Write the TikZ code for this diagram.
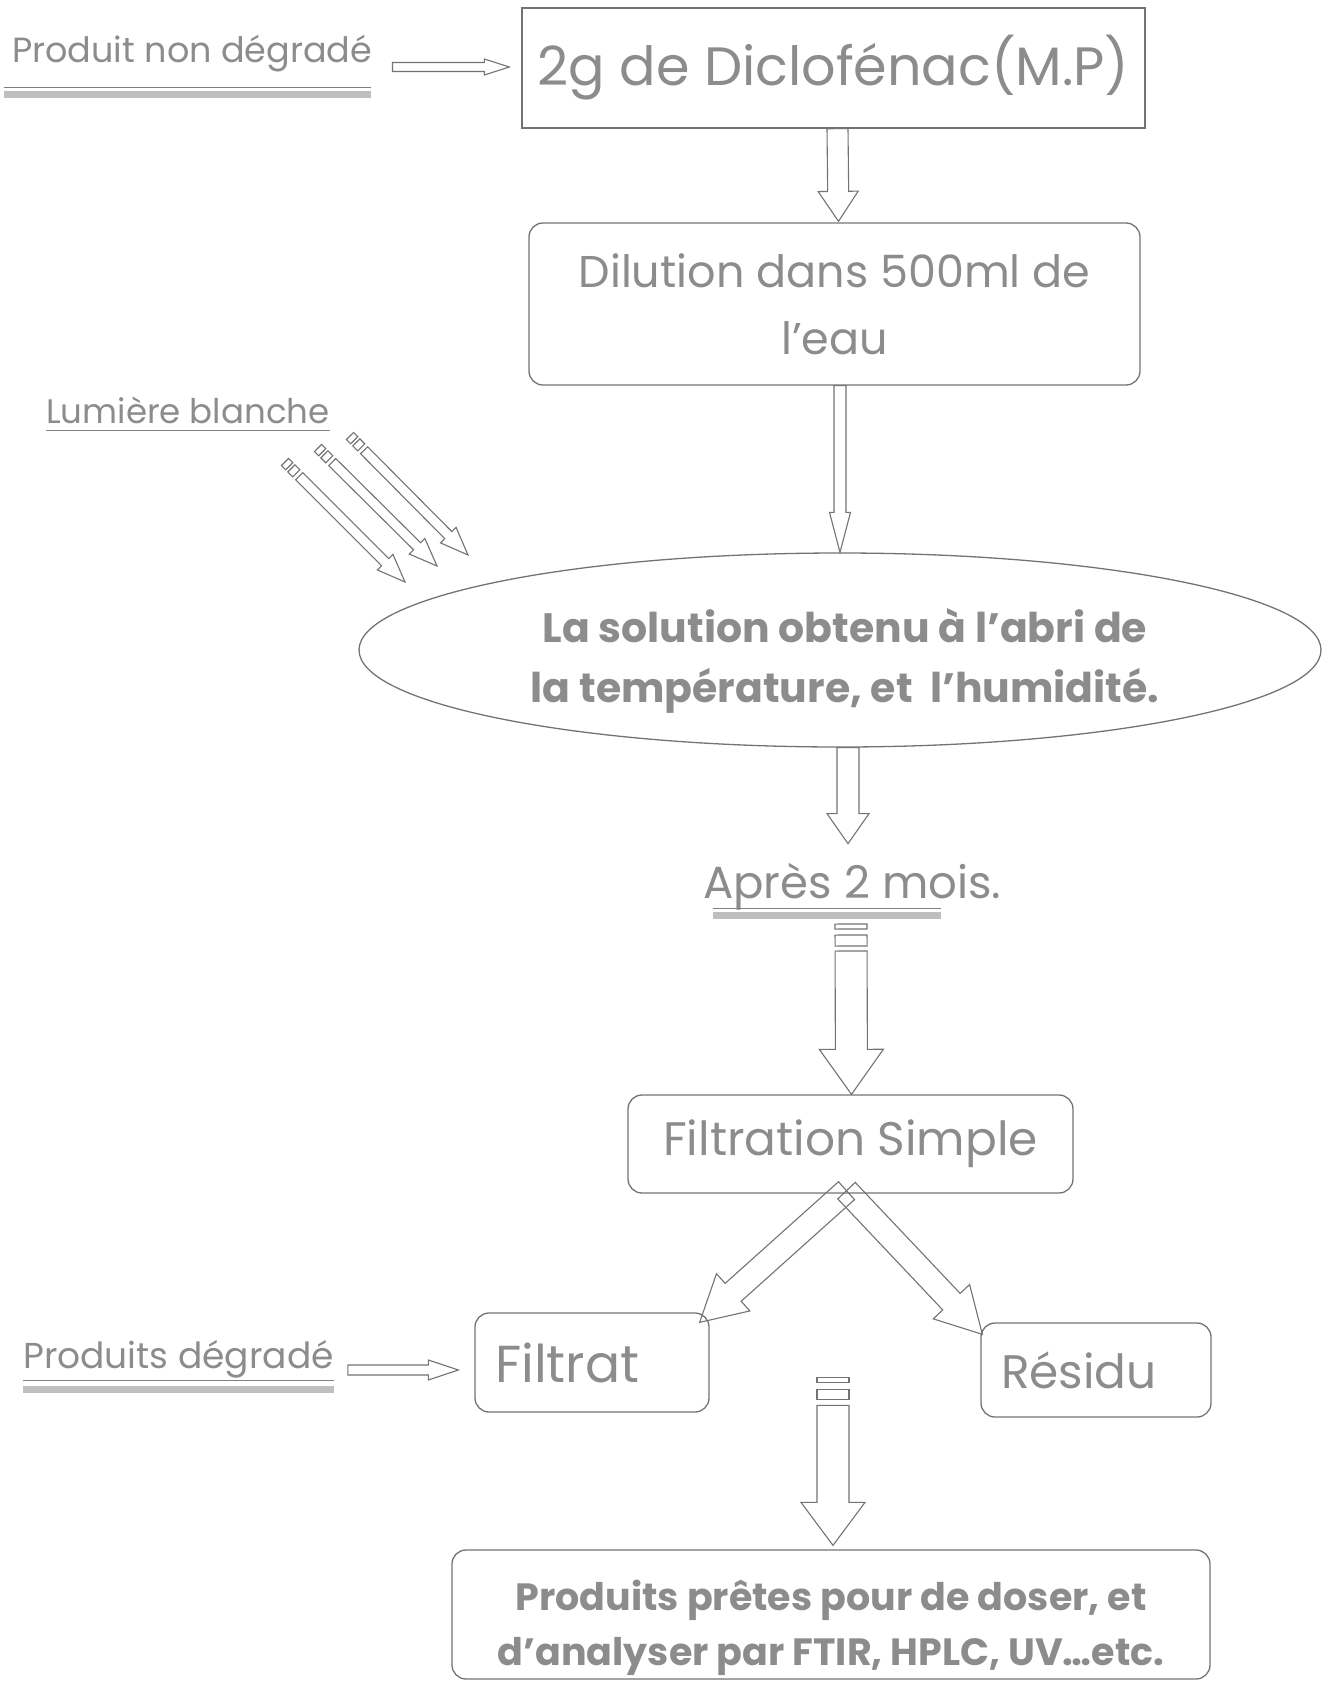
\documentclass[tikz,border=0pt]{standalone}
\usepackage{fontspec}
\setmainfont{Poppins}
\usetikzlibrary{calc,shapes.geometric}

% hollow block arrow: #1 start, #2 tip, #3 shaft half-width, #4 head half-width, #5 head length
\newcommand{\hollowarrow}[5]{%
  \coordinate (ha-s) at #1;
  \coordinate (ha-t) at #2;
  \coordinate (ha-h) at ($(ha-t)!#5!(ha-s)$);
  \draw[arrowline]
    ($(ha-s)!#3!90:(ha-t)$) -- ($(ha-h)!#3!90:(ha-t)$) --
    ($(ha-h)!#4!90:(ha-t)$) -- (ha-t) --
    ($(ha-h)!#4!-90:(ha-t)$) -- ($(ha-h)!#3!-90:(ha-t)$) --
    ($(ha-s)!#3!-90:(ha-t)$) -- cycle;
}
% one bar of a striped tail, between distances #1 and #2 from the tail
\newcommand{\armstripe}[3]{%
  \coordinate (st-a) at ($(sa-s)!#1!(sa-t)$);
  \coordinate (st-b) at ($(sa-s)!#2!(sa-t)$);
  \draw[arrowline] ($(st-a)!#3!90:(sa-t)$) -- ($(st-b)!#3!90:(sa-t)$) --
    ($(st-b)!#3!-90:(sa-t)$) -- ($(st-a)!#3!-90:(sa-t)$) -- cycle;
}
% striped block arrow: two bars, then the hollow arrow
\newcommand{\stripedarrow}[9]{%
  \coordinate (sa-s) at #1;
  \coordinate (sa-t) at #2;
  \armstripe{0pt}{#6}{#3}
  \armstripe{#7}{#8}{#3}
  \hollowarrow{($(sa-s)!#9!(sa-t)$)}{(sa-t)}{#3}{#4}{#5}
}

\tikzset{
  txt/.style={text=black!45, inner sep=0pt},
  box/.style={draw=black!55, line width=1.3pt, rectangle, inner sep=0pt, txt},
  rbox/.style={box, rounded corners=14pt},
  arrowline/.style={draw=black!55, line width=1.1pt, fill=white, line join=miter},
  thinrule/.style={draw=black!50, line width=1pt},
  bandrule/.style={draw=black!25, line width=7pt},
}

\begin{document}
\begin{tikzpicture}[x=1pt, y=-1pt]
\useasboundingbox (0,0) rectangle (1323,1681);

% main column
\node[box, minimum width=623pt, minimum height=120pt,
      font=\fontsize{54}{60}\selectfont] (mp) at (833.5,68) {2g de Diclofénac(M.P)};

\node[rbox, minimum width=611pt, minimum height=162pt, align=center,
      font=\fontsize{44.5}{67}\selectfont] (dil) at (834.5,304) {Dilution dans 500ml de\\l'eau};

\node[ellipse, draw=black!55, line width=1.3pt, inner sep=0pt,
      minimum width=962pt, minimum height=194pt] (sol) at (840,650) {};
\node[txt, align=center, font=\bfseries\fontsize{41}{60}\selectfont] (soltext) at ($(sol.center)+(5,11)$)
      {La solution obtenu à l'abri de\\la température, et\ \ l'humidité.};

\node[txt, anchor=base west, font=\fontsize{45}{50}\selectfont] (apres) at (703,898) {Après 2 mois.};

\node[rbox, minimum width=445pt, minimum height=98pt,
      font=\fontsize{47}{52}\selectfont] (filt) at (850.5,1144) {Filtration Simple};

\node[rbox, minimum width=234pt, minimum height=99pt, text width=194pt, inner xsep=20pt,
      align=left, font=\fontsize{52}{56}\selectfont] (fil) at (592,1362.5) {Filtrat};

\node[rbox, minimum width=230pt, minimum height=94pt, text width=190pt, inner xsep=20pt,
      align=left, font=\fontsize{47}{52}\selectfont] (res) at (1096,1370) {Résidu};

\node[rbox, minimum width=758pt, minimum height=129pt] (fin) at (831,1614.5) {};
\node[txt, align=center, font=\bfseries\fontsize{38}{55}\selectfont] (fintext) at ($(fin.center)+(0,13)$)
      {Produits prêtes pour de doser, et\\d'analyser par FTIR, HPLC, UV…etc.};

% side labels
\node[txt, anchor=base west, font=\fontsize{35}{40}\selectfont] (pnd) at (12,62) {Produit non dégradé};
\draw[thinrule] ($(pnd.base west)+(-8,25)$) -- ($(pnd.base east)+(-2,25)$);
\draw[bandrule] ($(pnd.base west)+(-8,32)$) -- ($(pnd.base east)+(-2,32)$);

\node[txt, anchor=base west, font=\fontsize{34}{38}\selectfont] (lum) at (46,423) {Lumière blanche};
\draw[thinrule] ($(lum.base west)+(0,7)$) -- ($(lum.base east)+(0,7)$);

\draw[thinrule] ($(apres.base west)+(10,10)$) -- ($(apres.base east)+(-60,10)$);
\draw[bandrule] ($(apres.base west)+(10,17)$) -- ($(apres.base east)+(-60,17)$);

\node[txt, anchor=base west, font=\fontsize{36}{40}\selectfont] (pd) at (23,1368) {Produits dégradé};
\draw[thinrule] ($(pd.base west)+(0,12)$) -- ($(pd.base east)+(0,12)$);
\draw[bandrule] ($(pd.base west)+(0,21)$) -- ($(pd.base east)+(0,21)$);

% connectors
\hollowarrow{($(pnd.base east)+(20,5)$)}{($(mp.west |- pnd.base)+(-12,5)$)}{4.5pt}{8pt}{25pt}
\hollowarrow{($(mp.south)+(4,0)$)}{($(dil.north)+(4,-1)$)}{10.5pt}{20pt}{30pt}
\hollowarrow{(dil.south -| sol.north)}{(sol.north)}{6pt}{10.5pt}{40pt}
\hollowarrow{($(sol.south)+(8,0)$)}{($(sol.south)+(8,96)$)}{11pt}{21pt}{30pt}
\stripedarrow{($(apres.base west)+(148,26)$)}{($(filt.north)+(1,0)$)}{16pt}{32pt}{45pt}{5pt}{11pt}{22pt}{27pt}
\begin{scope}[arrowline/.append style={fill=none}]
  \hollowarrow{($(filt.south)+(-4,-3)$)}{($(fil.north east)+(-10,10)$)}{12pt}{25pt}{45pt}
  \hollowarrow{($(filt.south)+(-4,-3)$)}{($(res.north west)+(2,12)$)}{12pt}{25pt}{45pt}
\end{scope}
\hollowarrow{($(pd.base east)+(14,2)$)}{($(fil.west |- pd.base)+(-16,2)$)}{5pt}{10pt}{30pt}
\stripedarrow{($(fin.north)+(2,-172)$)}{($(fin.north)+(2,-4)$)}{16pt}{32pt}{43pt}{5pt}{12pt}{22pt}{28pt}

% white light rays
\coordinate (ray1s) at (285,462); \coordinate (ray1t) at (405,582);
\coordinate (ray2s) at (318,448); \coordinate (ray2t) at (437,566);
\coordinate (ray3s) at (350,436); \coordinate (ray3t) at (468,555);
\stripedarrow{(ray1s)}{(ray1t)}{5pt}{11pt}{28pt}{6pt}{9pt}{16pt}{20pt}
\stripedarrow{(ray2s)}{(ray2t)}{5pt}{11pt}{28pt}{6pt}{9pt}{16pt}{20pt}
\stripedarrow{(ray3s)}{(ray3t)}{5pt}{11pt}{28pt}{6pt}{9pt}{16pt}{20pt}
\end{tikzpicture}
\end{document}
